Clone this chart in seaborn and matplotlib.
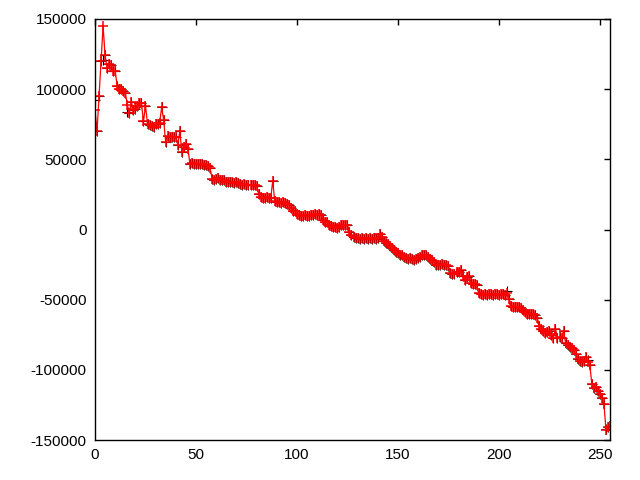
import matplotlib
matplotlib.use("Agg")
import matplotlib.pyplot as plt
import seaborn as sns
import numpy as np

# red series, index 0..255
red_values = [
    85000, 70000, 95000, 120000, 145000, 124000, 115000, 118000, 117000, 113000, 113000, 102000, 100000, 100000, 99000, 97500,
    89000, 83000, 91000, 85000, 86000, 88000, 90000, 90000, 77000, 88000, 75500, 74500, 74000, 73000, 75000, 75500,
    76000, 87000, 78000, 62000, 66500, 66000, 66000, 66000, 66000, 60500, 70000, 55000, 59000, 61000, 57500, 47000,
    47500, 47000, 47000, 47000, 46500, 46500, 46000, 46000, 45500, 43500, 36000, 35500, 36000, 36500, 35500, 35000,
    35500, 34000, 33500, 34000, 33500, 33000, 33500, 33000, 32500, 32000, 32500, 32000, 32000, 31500, 32000, 31500,
    31000, 25500, 23000, 22500, 22500, 23000, 22500, 22500, 34500, 20000, 19500, 19500, 19000, 19500, 19000, 18500,
    17500, 15000, 13500, 13500, 11000, 10000, 9500, 9500, 10000, 9500, 9500, 10000, 10500, 11000, 10500, 11000,
    10500, 7000, 5500, 5000, 3000, 2500, 1500, 1500, 1200, 2000, 3500, 3500, 3000, 3500, -2000, -4000,
    -5500, -6000, -6000, -6500, -6000, -6500, -6000, -6500, -6000, -6500, -6000, -6500, -6000, -3000, -5000, -8000,
    -9500, -10500, -11500, -13500, -14500, -16000, -17000, -18000, -18500, -19500, -20000, -21000, -20500, -21000, -21500, -21000,
    -20500, -19500, -18500, -18000, -18500, -19500, -21000, -22000, -23500, -25000, -25000, -25500, -24500, -25000, -25500, -26000,
    -31000, -31500, -31500, -30000, -30500, -29000, -33000, -36000, -34000, -33000, -38000, -38500, -39000, -39500, -45500, -46000,
    -46500, -46000, -46500, -46000, -46000, -46500, -46000, -46000, -46500, -46000, -46000, -46500, -45000, -49500, -54500, -55000,
    -55000, -55500, -55000, -56000, -57500, -59000, -60000, -60500, -60000, -60500, -61000, -63000, -69000, -71000, -72000, -73500,
    -73000, -72000, -75500, -77000, -71000, -77000, -76500, -77000, -72000, -81000, -82000, -83500, -84500, -86000, -89000, -92000,
    -94000, -94500, -94000, -91000, -94500, -96500, -110000, -113000, -112500, -115000, -117000, -120000, -124000, -143000, -141000, -140000,
]

# black series: same as red except where black marks show through
black_changes = {0: 92000, 4: 121000, 16: 83500, 204: -44000, 244: -93000, 253: -142000}

x_values = np.arange(len(red_values))
black_values = list(red_values)
for i, v in black_changes.items():
    black_values[i] = v

x_ticks = [0, 50, 100, 150, 200, 250]
y_ticks = [-150000, -100000, -50000, 0, 50000, 100000, 150000]

sns.set_style("white")
plt.rcParams["font.family"] = ["Liberation Sans", "DejaVu Sans"]
plt.rcParams["axes.unicode_minus"] = False

fig = plt.figure(figsize=(6.4, 4.8), dpi=100)
ax = fig.add_axes([95 / 640, 1 - 440 / 480, 515 / 640, 421 / 480])

sns.lineplot(x=x_values, y=black_values, color="black", marker="+", markersize=6.5,
             markeredgewidth=0.8, markeredgecolor="black", linestyle="none", ax=ax)
sns.lineplot(x=x_values, y=red_values, color="red", marker="+", markersize=7,
             markeredgewidth=1.1, markeredgecolor="red", linewidth=0.9, ax=ax)

ax.set_xlim(0, 255)
ax.set_ylim(-150000, 150000)
ax.set_xticks(x_ticks)
ax.set_yticks(y_ticks)
ax.set_xticklabels([str(t) for t in x_ticks])
ax.set_yticklabels([str(t) for t in y_ticks])
ax.tick_params(direction="in", length=4.5, width=1, top=True, right=True,
               labelsize=11, colors="black", pad=6)
for s in ax.spines.values():
    s.set_visible(True)
    s.set_color("black")
    s.set_linewidth(1)
ax.set_xlabel("")
ax.set_ylabel("")

fig.savefig("out.png", dpi=100)
